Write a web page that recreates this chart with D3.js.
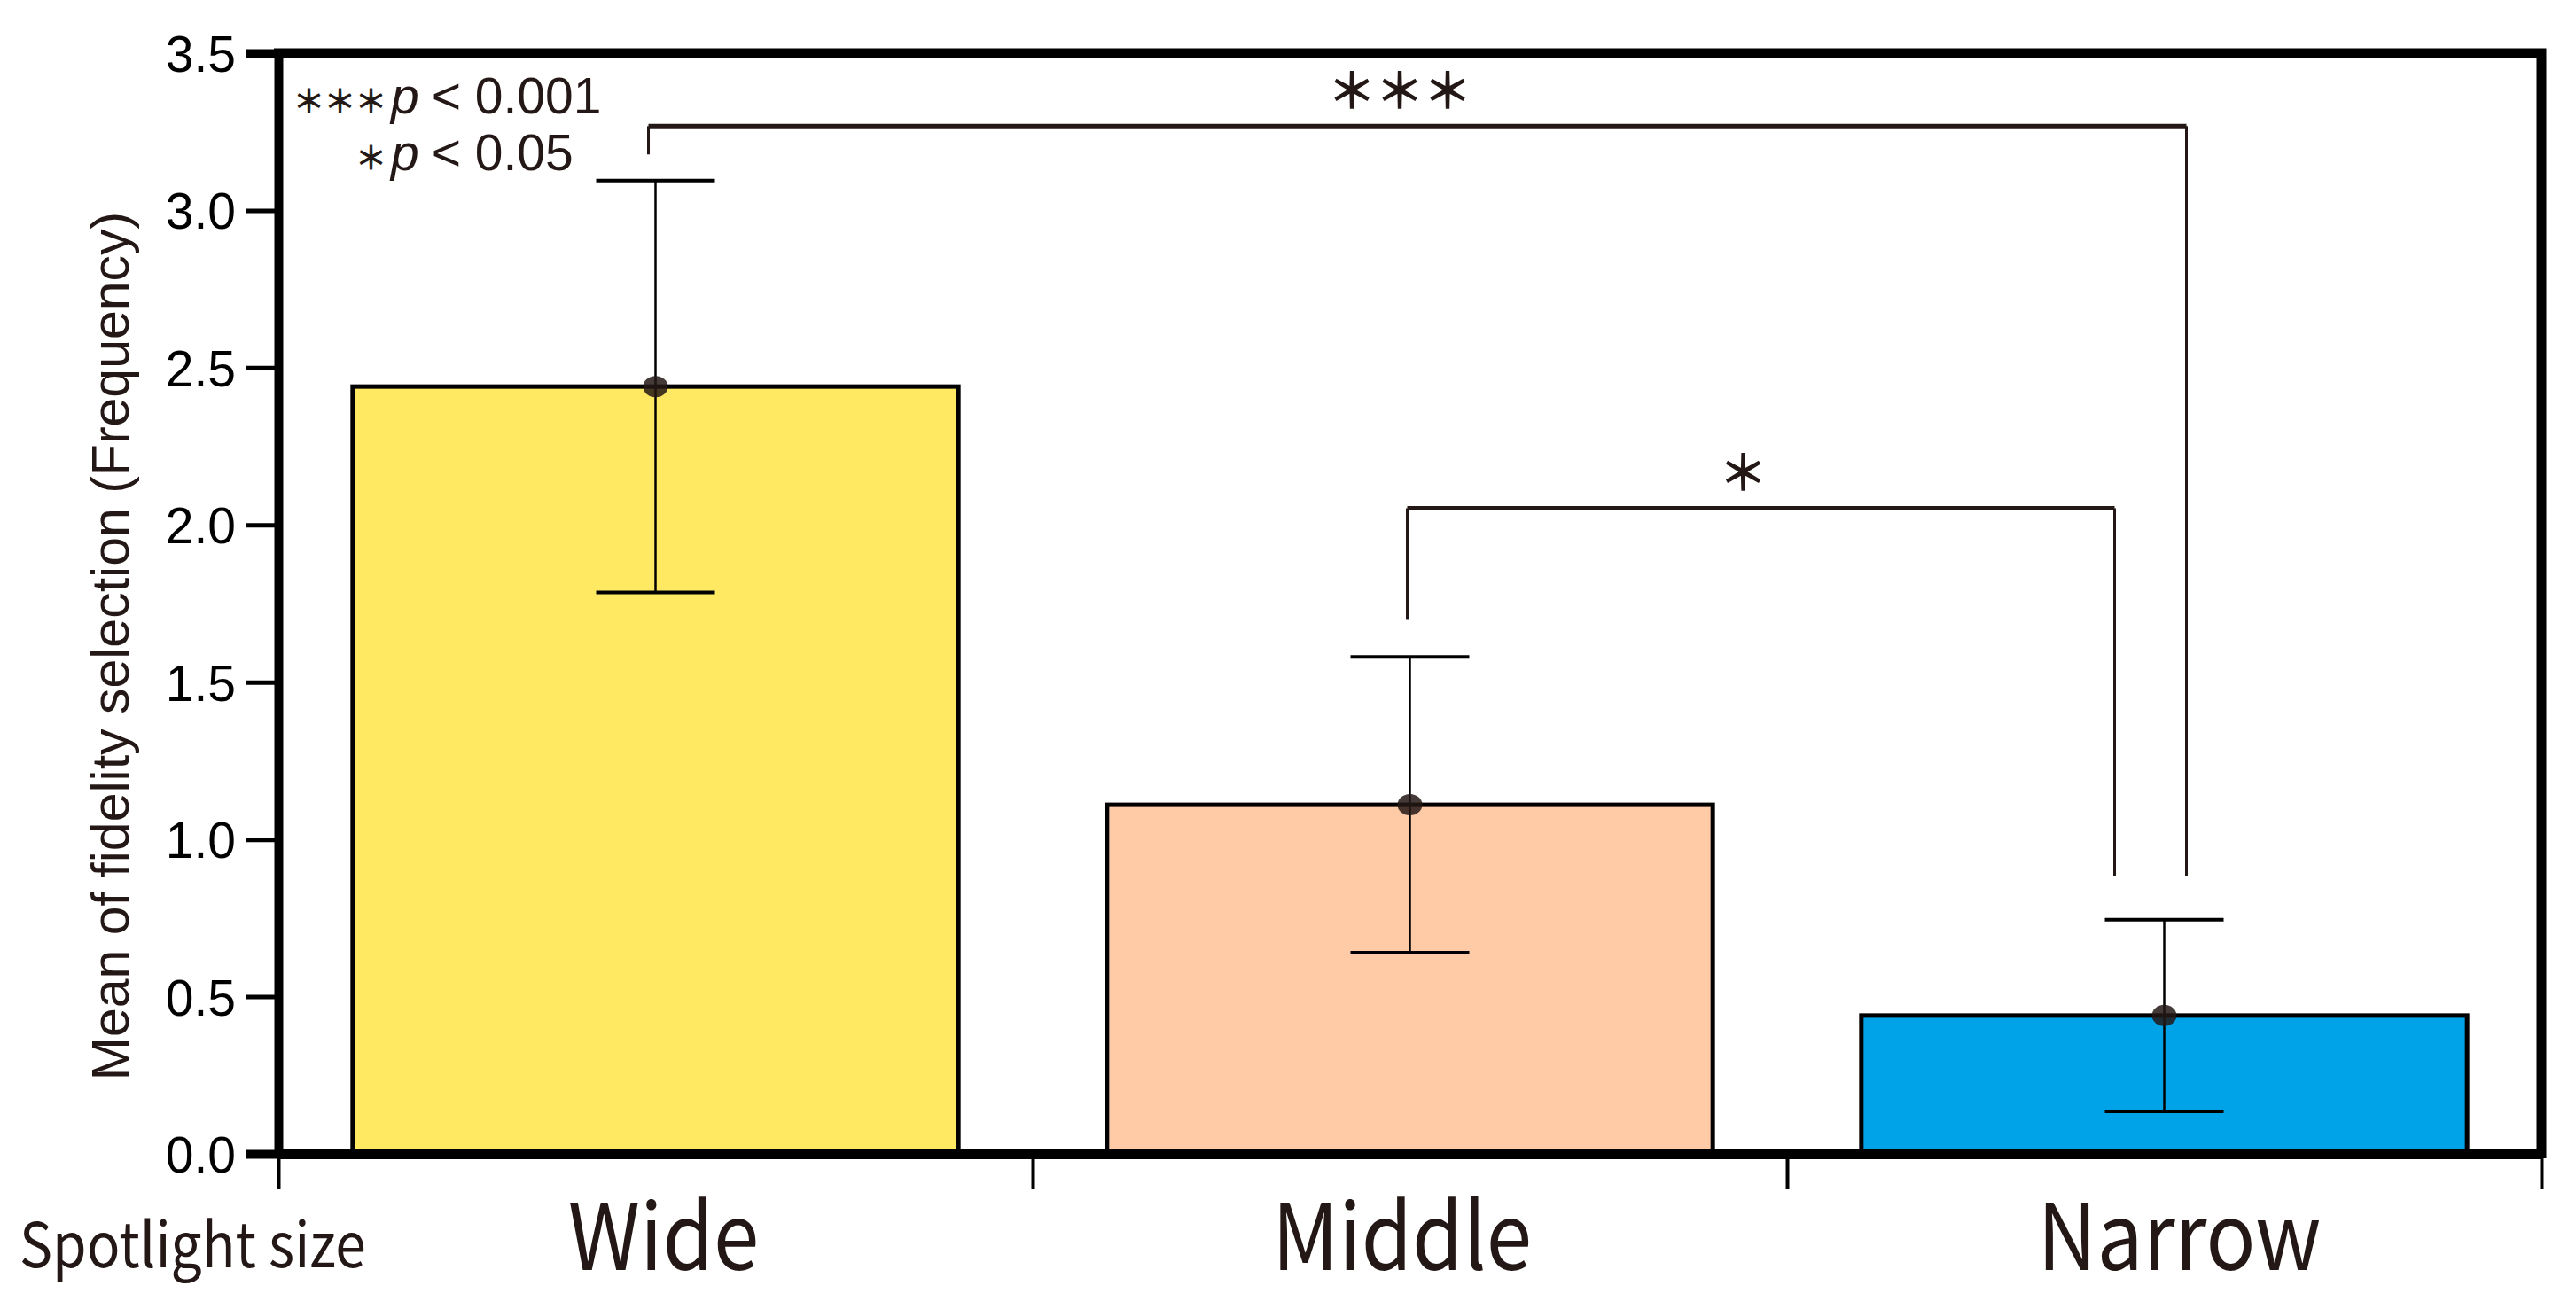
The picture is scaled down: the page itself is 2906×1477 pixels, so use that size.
<!DOCTYPE html>
<html>
<head>
<meta charset="utf-8">
<script src="https://cdn.jsdelivr.net/npm/d3@7"></script>
<style>
  body { margin: 0; background: #fff; }
  svg { display: block; }
</style>
</head>
<body>
<svg id="chart"></svg>
<script>
// Data
var categories = ['Wide', 'Middle', 'Narrow'];
var means = [2.44, 1.11, 0.44];
var errors = [0.655, 0.47, 0.305];
var barColors = ['#FFE862', '#FFCBA7', '#00A2E8'];
var yTicks = [0, 0.5, 1.0, 1.5, 2.0, 2.5, 3.0, 3.5];
var axisLabel = 'Mean of fidelity selection (Frequency)';
var groupLabel = 'Spotlight size';

// significance brackets: from / to category, bar height, leg ends (data units)
var bracketFrom = ['Wide', 'Middle'];
var bracketTo = ['Narrow', 'Narrow'];
var bracketLevel = [3.268, 2.053];
var bracketLeftEnd = [3.178, 1.698];
var bracketRightEnd = [0.885, 0.885];
var bracketMarks = ['＊＊＊', '＊'];

// legend lines
var legendStars = ['＊＊＊', '＊'];
var legendValues = ['< 0.001', '< 0.05'];

// Sizing
var width = 2906, height = 1477;
var ink = '#231815';

var svg = d3.select('#chart')
  .attr('width', width)
  .attr('height', height);

var x0 = 314, x1 = 2867, yTop = 60, yBot = 1302;

var x = d3.scaleBand()
  .domain(categories)
  .range([x0, x1])
  .paddingInner(0.197)
  .paddingOuter(0.0985);

var y = d3.scaleLinear()
  .domain([0, 3.5])
  .range([yBot, yTop]);

var bw = x.bandwidth();
function cx(c) { return x(c) + bw / 2; }

// Bars
svg.append('g').selectAll('rect')
  .data(categories)
  .enter().append('rect')
  .attr('x', function(d) { return x(d); })
  .attr('y', function(d, i) { return y(means[i]); })
  .attr('width', bw)
  .attr('height', function(d, i) { return y(0) - y(means[i]); })
  .attr('fill', function(d, i) { return barColors[i]; })
  .attr('stroke', '#000')
  .attr('stroke-width', 5);

// Error bars
var eb = svg.append('g').attr('stroke', '#000');
categories.forEach(function(c, i) {
  var hi = means[i] + errors[i], lo = means[i] - errors[i];
  eb.append('line')
    .attr('x1', cx(c)).attr('x2', cx(c))
    .attr('y1', y(hi)).attr('y2', y(lo))
    .attr('stroke-width', 2.5);
  [hi, lo].forEach(function(v) {
    eb.append('line')
      .attr('x1', cx(c) - 67).attr('x2', cx(c) + 67)
      .attr('y1', y(v)).attr('y2', y(v))
      .attr('stroke-width', 4);
  });
  svg.append('ellipse')
    .attr('cx', cx(c)).attr('cy', y(means[i]))
    .attr('rx', 14).attr('ry', 12)
    .attr('fill', ink).attr('fill-opacity', 0.85);
});

// Y axis
var yAxis = svg.append('g')
  .attr('transform', 'translate(' + x0 + ',0)')
  .call(d3.axisLeft(y).tickValues(yTicks).tickFormat(d3.format('.1f')).tickSize(36).tickPadding(12));
yAxis.select('.domain').attr('stroke-width', 10).attr('stroke', '#000');
yAxis.selectAll('.tick line').attr('stroke-width', 5).attr('stroke', '#000');
yAxis.selectAll('.tick text')
  .attr('font-family', 'Liberation Sans, Arial, sans-serif')
  .attr('font-size', 57)
  .attr('fill', '#000')
  .attr('dy', '0.36em');

// X axis (ticks at band edges)
var xe = d3.scaleLinear().domain([0, categories.length]).range([x0, x1]);
var xAxis = svg.append('g')
  .attr('transform', 'translate(0,' + yBot + ')')
  .call(d3.axisBottom(xe).tickValues(d3.range(categories.length + 1)).tickFormat('').tickSize(40).tickSizeOuter(0));
xAxis.select('.domain').attr('stroke-width', 11).attr('stroke', '#000');
xAxis.selectAll('.tick line').attr('stroke-width', 4).attr('stroke', '#000');

// Frame top and right
svg.append('path')
  .attr('d', 'M' + (x0 - 5) + ',' + yTop + 'H' + x1 + 'V' + (yBot + 5))
  .attr('fill', 'none')
  .attr('stroke', '#000')
  .attr('stroke-width', 11);

// Category labels (narrowed to match the condensed original face)
var labelShift = [9, -9, 17];
svg.append('g').selectAll('text')
  .data(categories)
  .enter().append('text')
  .attr('transform', function(d, i) { return 'translate(' + (cx(d) + labelShift[i]) + ',1433) scale(0.89,1)'; })
  .attr('text-anchor', 'middle')
  .attr('font-family', 'Noto Sans CJK JP, sans-serif')
  .attr('font-size', 104)
  .attr('fill', ink)
  .text(function(d) { return d; });

svg.append('text')
  .attr('transform', 'translate(22,1430) scale(0.89,1)')
  .attr('font-family', 'Noto Sans CJK JP, sans-serif')
  .attr('font-size', 70)
  .attr('fill', ink)
  .text(groupLabel);

// Y title
svg.append('text')
  .attr('transform', 'translate(145,' + 729 + ') rotate(-90)')
  .attr('text-anchor', 'middle')
  .attr('font-family', 'Liberation Sans, Arial, sans-serif')
  .attr('font-size', 59)
  .attr('fill', ink)
  .text(axisLabel);

// Brackets
var legX = [-8, -3], rightShift = [25, -56];
bracketFrom.forEach(function(f, i) {
  var xl = cx(f) + legX[i];
  var xr = cx(bracketTo[i]) + rightShift[i];
  svg.append('path')
    .attr('d', 'M' + xl + ',' + y(bracketLevel[i]) + 'V' + y(bracketLeftEnd[i]))
    .attr('stroke', ink)
    .attr('stroke-width', 3);
  svg.append('path')
    .attr('d', 'M' + xl + ',' + y(bracketLevel[i]) + 'H' + xr)
    .attr('stroke', ink)
    .attr('stroke-width', 5);
  svg.append('path')
    .attr('d', 'M' + xr + ',' + y(bracketLevel[i]) + 'V' + y(bracketRightEnd[i]))
    .attr('stroke', ink)
    .attr('stroke-width', 3);
  svg.append('text')
    .attr('x', (xl + xr) / 2 - 20)
    .attr('y', y(bracketLevel[i]) - 20)
    .attr('text-anchor', 'middle')
    .attr('font-family', 'Noto Sans CJK JP, sans-serif')
    .attr('font-size', 54)
    .attr('fill', ink)
    .attr('stroke', ink)
    .attr('stroke-width', 1.5)
    .text(bracketMarks[i]);
});

// Legend
var legBase = [128, 192];
legendStars.forEach(function(s, i) {
  var t = svg.append('text')
    .attr('y', legBase[i])
    .attr('font-family', 'Liberation Sans, Arial, sans-serif')
    .attr('font-size', 57)
    .attr('fill', ink);
  svg.append('text')
    .attr('x', 436).attr('y', legBase[i] - 1)
    .attr('text-anchor', 'end')
    .attr('font-family', 'Noto Sans CJK JP, sans-serif')
    .attr('font-size', 35)
    .attr('fill', ink)
    .attr('stroke', ink)
    .attr('stroke-width', 1.2)
    .text(s);
  t.append('tspan').attr('x', 441).attr('font-style', 'italic').text('p');
  t.append('tspan').attr('dx', 14).text(legendValues[i]);
});
</script>
</body>
</html>
